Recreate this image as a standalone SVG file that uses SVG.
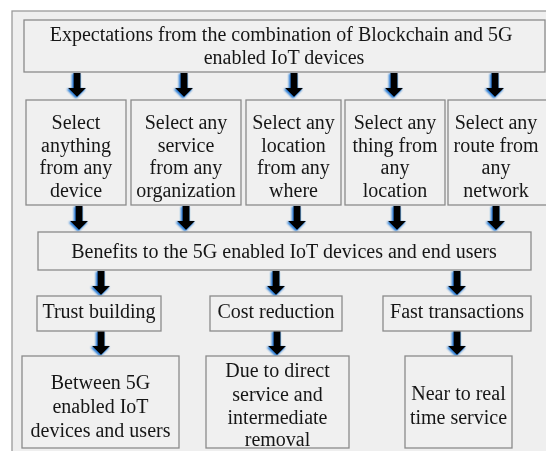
<svg xmlns="http://www.w3.org/2000/svg" xmlns:xlink="http://www.w3.org/1999/xlink" width="546" height="451" viewBox="0 0 546 451">
  <style>
    .box { fill: #f0f0f0; stroke: #8a8a8a; stroke-width: 1.3; }
    .frame { fill: #efefef; stroke: #9a9a9a; stroke-width: 1.3; }
    text { font-family: "Liberation Serif", "Times New Roman", serif; font-size: 20px; fill: #161616; text-anchor: middle; }
  </style>
  <defs>
    <!-- soft blue shadow under each arrow -->
    <filter id="glow" x="-50%" y="-30%" width="200%" height="160%">
      <feGaussianBlur in="SourceAlpha" stdDeviation="1" result="soft"/>
      <feOffset in="soft" dx="-0.6" dy="1.4" result="shift"/>
      <feFlood flood-color="#2e7fd8" flood-opacity="0.95" result="blue"/>
      <feComposite in="blue" in2="shift" operator="in" result="halo"/>
      <feMerge>
        <feMergeNode in="halo"/>
        <feMergeNode in="halo"/>
        <feMergeNode in="SourceGraphic"/>
      </feMerge>
    </filter>
    <!-- down arrow, origin at top centre of the shaft -->
    <path id="arrow" d="M-3.6,0 H3.6 V15 H9 L0,24 L-9,15 H-3.6 Z" fill="#050505"/>
  </defs>

  <rect class="frame" x="12" y="11" width="560" height="470"/>

  <g id="connectors" filter="url(#glow)">
    <use xlink:href="#arrow" x="77" y="73"/>
    <use xlink:href="#arrow" x="184" y="73"/>
    <use xlink:href="#arrow" x="294" y="73"/>
    <use xlink:href="#arrow" x="394" y="73"/>
    <use xlink:href="#arrow" x="495" y="73"/>

    <use xlink:href="#arrow" x="79" y="206"/>
    <use xlink:href="#arrow" x="186" y="206"/>
    <use xlink:href="#arrow" x="297" y="206"/>
    <use xlink:href="#arrow" x="397" y="206"/>
    <use xlink:href="#arrow" x="496" y="206"/>

    <use xlink:href="#arrow" x="101" y="271"/>
    <use xlink:href="#arrow" x="276" y="271"/>
    <use xlink:href="#arrow" x="457" y="271"/>

    <use xlink:href="#arrow" x="101" y="331"/>
    <use xlink:href="#arrow" x="277" y="331"/>
    <use xlink:href="#arrow" x="457" y="331"/>
  </g>

  <g id="expectations">
    <rect class="box" x="24" y="20" width="521" height="52"/>
    <text x="281" y="41">Expectations from the combination of Blockchain and 5G</text>
    <text x="284" y="64">enabled IoT devices</text>
  </g>

  <g id="select-anything">
    <rect class="box" x="26" y="100" width="100" height="105"/>
    <text x="76" y="129">Select</text>
    <text x="76" y="151.5">anything</text>
    <text x="76" y="174">from any</text>
    <text x="76" y="196.5">device</text>
  </g>
  <g id="select-service">
    <rect class="box" x="131" y="100" width="110" height="105"/>
    <text x="186" y="129">Select any</text>
    <text x="186" y="151.5">service</text>
    <text x="186" y="174">from any</text>
    <text x="186" y="196.5">organization</text>
  </g>
  <g id="select-location">
    <rect class="box" x="246" y="100" width="95" height="105"/>
    <text x="293.5" y="129">Select any</text>
    <text x="293.5" y="151.5">location</text>
    <text x="293.5" y="174">from any</text>
    <text x="293.5" y="196.5">where</text>
  </g>
  <g id="select-thing">
    <rect class="box" x="345" y="100" width="100" height="105"/>
    <text x="395" y="129">Select any</text>
    <text x="395" y="151.5">thing from</text>
    <text x="395" y="174">any</text>
    <text x="395" y="196.5">location</text>
  </g>
  <g id="select-route">
    <rect class="box" x="448" y="100" width="110" height="105"/>
    <text x="496" y="129">Select any</text>
    <text x="496" y="151.5">route from</text>
    <text x="496" y="174">any</text>
    <text x="496" y="196.5">network</text>
  </g>

  <g id="benefits">
    <rect class="box" x="38" y="232" width="493" height="38"/>
    <text x="284" y="258">Benefits to the 5G enabled IoT devices and end users</text>
  </g>

  <g id="trust-building">
    <rect class="box" x="37" y="296" width="124" height="35"/>
    <text x="99" y="318">Trust building</text>
  </g>
  <g id="cost-reduction">
    <rect class="box" x="210" y="296" width="132" height="35"/>
    <text x="276" y="318">Cost reduction</text>
  </g>
  <g id="fast-transactions">
    <rect class="box" x="383" y="296" width="148" height="35"/>
    <text x="457" y="318">Fast transactions</text>
  </g>

  <g id="trust-detail">
    <rect class="box" x="22" y="356" width="157" height="92"/>
    <text x="100.5" y="389">Between 5G</text>
    <text x="100.5" y="413">enabled IoT</text>
    <text x="100.5" y="437">devices and users</text>
  </g>
  <g id="cost-detail">
    <rect class="box" x="206" y="356" width="143" height="92"/>
    <text x="277.5" y="377">Due to direct</text>
    <text x="277.5" y="400.5">service and</text>
    <text x="277.5" y="424">intermediate</text>
    <text x="277.5" y="446">removal</text>
  </g>
  <g id="fast-detail">
    <rect class="box" x="405" y="356" width="107" height="92"/>
    <text x="458.5" y="400">Near to real</text>
    <text x="458.5" y="424">time service</text>
  </g>
</svg>
